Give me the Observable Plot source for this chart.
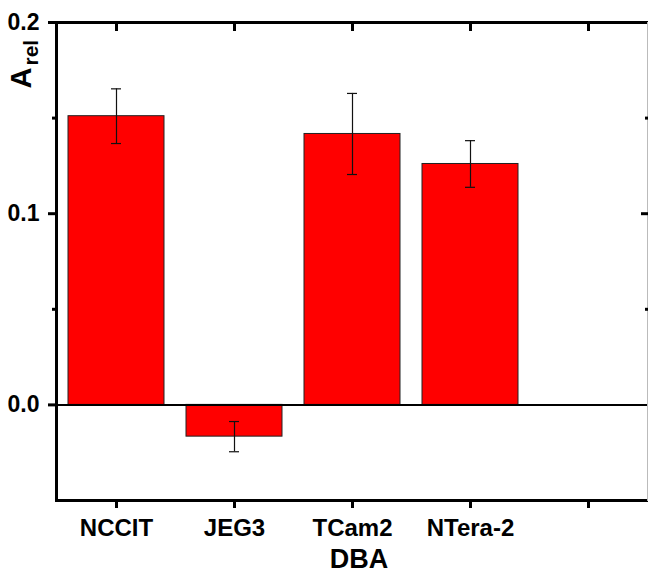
<!DOCTYPE html>
<html>
<head>
<meta charset="utf-8">
<script src="https://cdn.jsdelivr.net/npm/d3@7"></script>
<script src="https://cdn.jsdelivr.net/npm/@observablehq/plot@0.6"></script>
<style>
  html, body { margin: 0; padding: 0; background: #fff; }
  #chart svg { display: block; }
</style>
</head>
<body>
<div id="chart"></div>
<script>
const categories = ["NCCIT", "JEG3", "TCam2", "NTera-2"];
const values = [0.151, -0.0166, 0.1417, 0.126];
const errors = [0.0143, 0.0079, 0.0212, 0.0122];
const xDomain = [...categories, ""];
const yDomain = [-0.05, 0.2];
const yMajorTicks = [0, 0.1, 0.2];
const yMinorTicks = [0.05, 0.15];
const xTitle = "DBA";
const yTitleMain = "A";
const yTitleSub = "rel";

const data = categories.map((c, i) => ({cat: c, value: values[i], err: errors[i]}));

const font = "Liberation Sans, Arial, sans-serif";

const chart = Plot.plot({
  width: 648,
  height: 576,
  marginLeft: 56,
  marginRight: 1,
  marginTop: 22,
  marginBottom: 76,
  style: {fontFamily: font, background: "#fff", color: "#000", overflow: "visible"},
  x: {domain: xDomain, padding: 0},
  y: {domain: yDomain},
  marks: [
    Plot.barY(data, {x: "cat", y: "value", fill: "#ff0000", stroke: "#222", strokeWidth: 1, insetLeft: 11, insetRight: 11}),
    Plot.ruleY([0], {stroke: "#000", strokeWidth: 2}),
    Plot.ruleX(data, {x: "cat", y1: d => d.value - d.err, y2: d => d.value + d.err, stroke: "#111", strokeWidth: 1.2}),
    Plot.tickY(data, {x: "cat", y: d => d.value + d.err, stroke: "#111", strokeWidth: 1.2, insetLeft: 54, insetRight: 54}),
    Plot.tickY(data, {x: "cat", y: d => d.value - d.err, stroke: "#111", strokeWidth: 1.2, insetLeft: 54, insetRight: 54}),
    Plot.frame({anchor: "left", stroke: "#000", strokeWidth: 3}),
    Plot.frame({anchor: "top", stroke: "#000", strokeWidth: 3}),
    Plot.frame({anchor: "bottom", stroke: "#000", strokeWidth: 3}),
    Plot.frame({anchor: "right", stroke: "#bbb", strokeWidth: 1}),
    Plot.axisY({ticks: yMajorTicks, tickFormat: ".1f", tickSize: 8, tickPadding: 9, strokeWidth: 3, fontSize: 23, fontWeight: "bold", label: null}),
    Plot.axisY({ticks: yMinorTicks, tickFormat: () => "", tickSize: 4, strokeWidth: 3, label: null}),
    Plot.axisY({anchor: "right", ticks: [0.1], tickFormat: () => "", tickSize: -7, strokeWidth: 3, label: null}),
    Plot.axisY({anchor: "right", ticks: yMinorTicks, tickFormat: () => "", tickSize: -3, strokeWidth: 3, label: null}),
    Plot.axisX({tickSize: 8, tickPadding: 10, strokeWidth: 3, fontSize: 24, fontWeight: "bold", label: null}),
    Plot.axisX({anchor: "top", tickSize: -8, strokeWidth: 3, tickFormat: () => "", label: null}),
    Plot.text([xTitle], {frameAnchor: "bottom", dx: 7, dy: 67, fontSize: 27, fontWeight: "bold", lineAnchor: "bottom"}),
    Plot.text([yTitleMain], {frameAnchor: "top-left", dx: -26, dy: 66, rotate: -90, textAnchor: "start", lineAnchor: "bottom", fontSize: 29, fontWeight: "bold"}),
    Plot.text([yTitleSub], {frameAnchor: "top-left", dx: -19, dy: 43, rotate: -90, textAnchor: "start", lineAnchor: "bottom", fontSize: 21, fontWeight: "bold"})
  ]
});

document.getElementById("chart").appendChild(chart);
</script>
</body>
</html>
